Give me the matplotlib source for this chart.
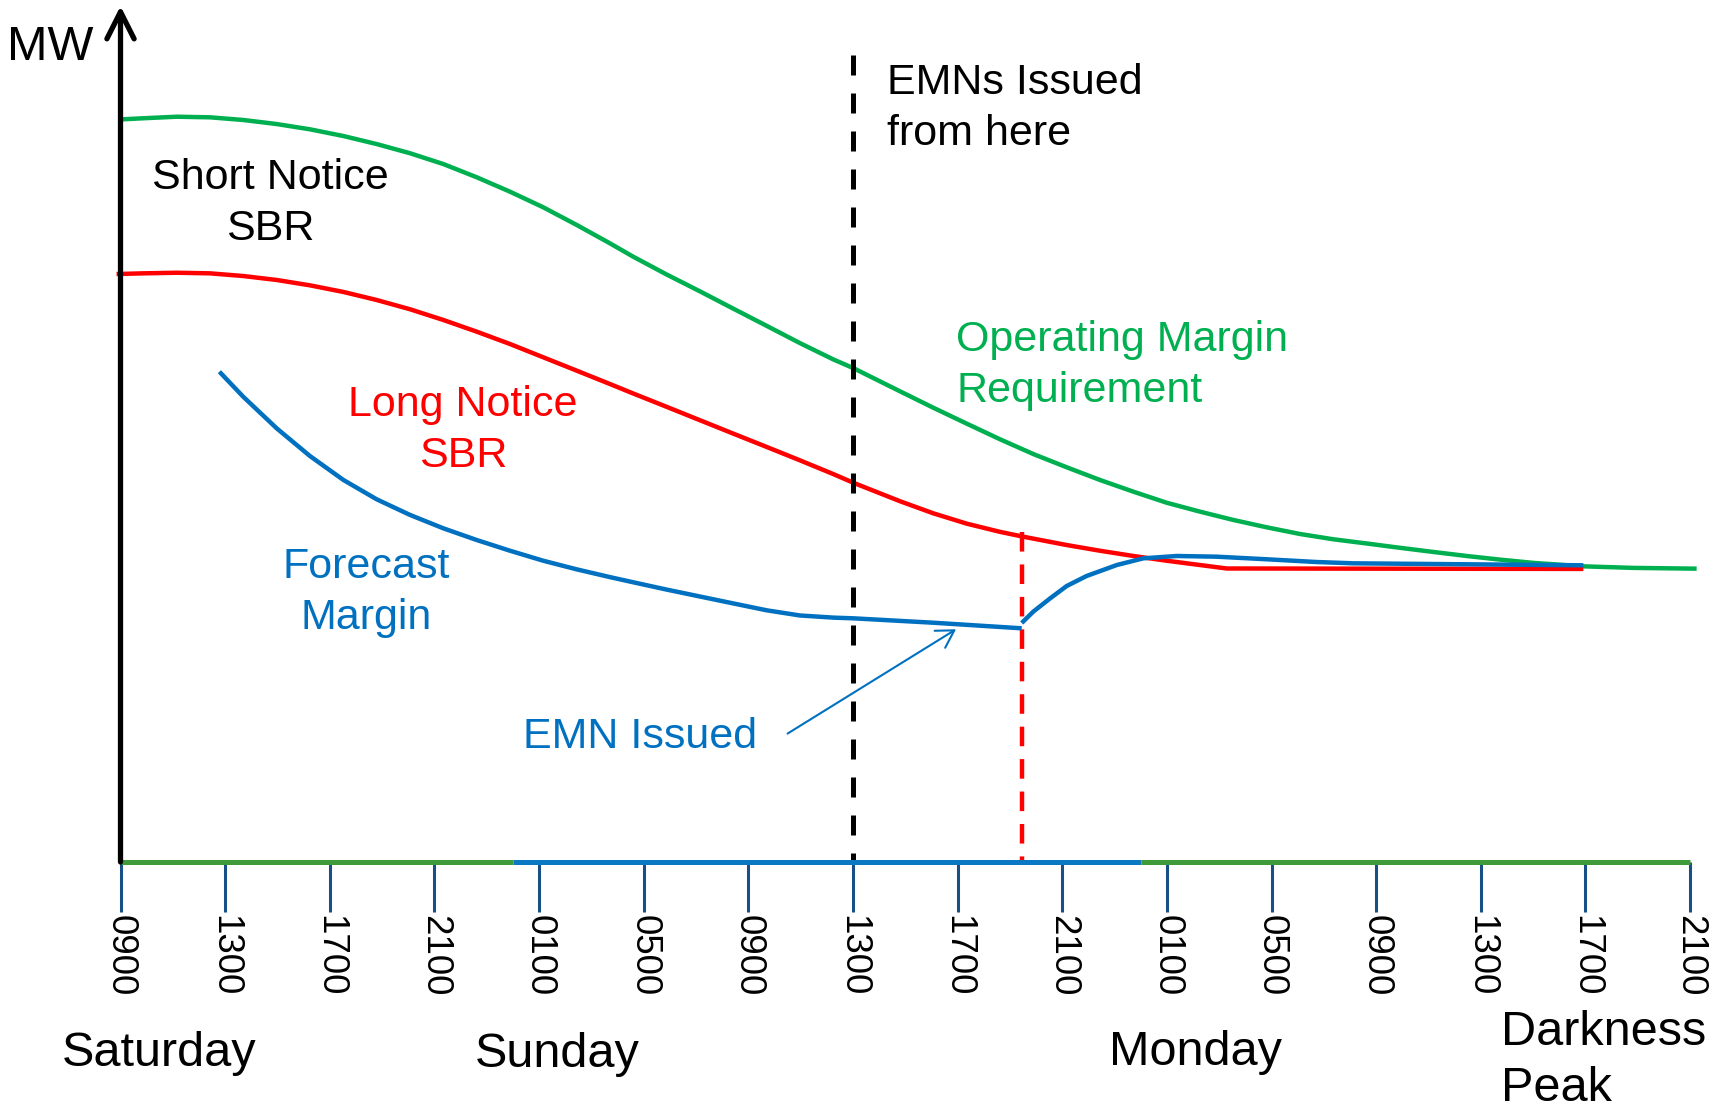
import matplotlib
matplotlib.use('Agg')
import matplotlib.pyplot as plt

plt.rcParams['font.family'] = ['Liberation Sans', 'DejaVu Sans']

# x = hours after Saturday 0900, y = MW (arbitrary, baseline = 0)
tick_hours = list(range(0, 61, 4))
tick_labels = ['0900', '1300', '1700', '2100', '0100', '0500', '0900', '1300',
               '1700', '2100', '0100', '0500', '0900', '1300', '1700', '2100']
day_edges = [0, 15, 39, 60]  # Saturday / Sunday / Monday

# Operating Margin Requirement
omr_hours = [0.08, 0.87, 2.15, 3.42, 4.69, 5.97, 7.24, 8.52, 9.79, 11.07,
             12.34, 13.62, 14.89, 16.16, 17.44, 18.71, 19.60, 20.88, 22.15, 23.42,
             24.70, 25.97, 27.25, 28.01, 29.80, 31.07, 32.35, 33.62, 34.89, 36.17,
             37.44, 38.72, 39.99, 41.27, 42.54, 43.81, 45.09, 46.36, 47.64, 48.78,
             50.18, 51.46, 52.73, 54.01, 55.92, 57.83, 60.25]
omr_mw = [86.16, 86.28, 86.46, 86.39, 86.08, 85.61, 85.00, 84.22, 83.29, 82.22,
          80.97, 79.43, 77.76, 75.95, 73.90, 71.77, 70.22, 68.15, 66.20, 64.20,
          62.20, 60.20, 58.30, 57.30, 54.60, 52.70, 50.85, 49.04, 47.33, 45.79,
          44.32, 42.96, 41.68, 40.64, 39.68, 38.83, 38.05, 37.44, 36.95, 36.50,
          35.97, 35.50, 35.08, 34.70, 34.30, 34.12, 34.03]

# Long Notice SBR
long_hours = [-0.15, 0.87, 2.15, 3.42, 4.69, 5.97, 7.24, 8.52, 9.79, 11.07,
              12.34, 13.62, 14.89, 16.16, 17.44, 18.71, 19.60, 20.88, 22.15, 23.42,
              24.70, 25.97, 27.25, 28.01, 29.80, 31.07, 32.35, 33.62, 34.49, 36.17,
              37.44, 38.72, 39.99, 41.27, 42.29, 55.92]
long_mw = [68.21, 68.29, 68.36, 68.29, 67.98, 67.52, 66.90, 66.13, 65.20, 64.12,
           62.88, 61.52, 60.09, 58.55, 57.00, 55.45, 54.35, 52.80, 51.25, 49.70,
           48.15, 46.60, 45.00, 44.00, 41.85, 40.45, 39.25, 38.30, 37.75, 36.77,
           36.11, 35.50, 34.95, 34.45, 34.05, 34.00]

# Forecast Margin before the EMN
fm_hours = [3.78, 4.69, 5.97, 7.24, 8.52, 9.79, 11.07, 12.34, 13.62, 14.89,
            16.16, 17.44, 18.71, 19.60, 20.88, 22.15, 23.42, 24.70, 25.97, 27.25,
            28.01, 31.07, 34.45]
fm_mw = [56.88, 53.98, 50.31, 47.10, 44.32, 42.08, 40.26, 38.71, 37.35, 36.11,
         34.95, 33.95, 33.05, 32.45, 31.60, 30.80, 30.00, 29.20, 28.60, 28.35,
         28.27, 27.76, 27.11]
# Forecast Margin after the EMN
fm2_hours = [34.45, 34.89, 35.53, 36.17, 36.93, 38.08, 39.10, 40.37, 41.90, 43.81,
             45.73, 47.13, 55.92]
fm2_mw = [27.73, 29.04, 30.57, 32.02, 33.18, 34.45, 35.23, 35.50, 35.42, 35.12,
          34.80, 34.65, 34.42]

emn_start_hour = 28.0
emn_issue_hour = 34.45

GREEN = '#00B050'
RED = '#FF0000'
BLUE = '#0070C0'

fig = plt.figure(figsize=(17.23, 11.06), dpi=100)
ax = fig.add_axes([0.06994, 0.22061, 0.91856, 0.77939])
ax.set_xlim(0, 60.5)
ax.set_ylim(0, 100)
for s in ax.spines.values():
    s.set_visible(False)
ax.set_yticks([])

# time axis: ticks and coloured baseline
ax.set_xticks(tick_hours)
ax.set_xticklabels(tick_labels)
ax.tick_params(axis='x', direction='out', length=36, width=2.2, color='#174f86',
               pad=2, labelsize=26.5, labelrotation=270)
base_cols = ['#3f9b3a', '#0b78c4', '#3f9b3a']
for i in range(3):
    ax.plot(day_edges[i:i + 2], [0, 0], color=base_cols[i], lw=3.6,
            solid_capstyle='butt', clip_on=False, zorder=3)

# y axis arrow
ax.annotate('', xy=(0, 99.3), xytext=(0, 0), annotation_clip=False,
            arrowprops=dict(arrowstyle='->,head_length=0.97,head_width=0.49',
                            lw=3.8, color='black', shrinkA=0, shrinkB=0,
                            mutation_scale=20, capstyle='round'), zorder=5)
ax.text(-4.35, 93.0, 'MW', fontsize=35, ha='left', va='baseline')

# curves
line_kw = dict(lw=3.2, solid_joinstyle='round', solid_capstyle='butt')
ax.plot(omr_hours, omr_mw, color=GREEN, clip_on=False, zorder=2, **line_kw)
ax.plot(long_hours, long_mw, color=RED, clip_on=False, zorder=2, **line_kw)
ax.plot(fm_hours, fm_mw, color=BLUE, zorder=3, **line_kw)
ax.plot(fm2_hours, fm2_mw, color=BLUE, zorder=3, **line_kw)

# dashed markers
ax.plot([emn_start_hour, emn_start_hour], [93.6, 0], color='black', lw=3.6,
        linestyle=(0, (4, 3.6)), zorder=2.5)
ax.plot([emn_issue_hour, emn_issue_hour], [38.3, 0], color=RED, lw=3.2,
        linestyle=(0, (4.4, 2.9)), zorder=2.5)

# annotation arrow
ax.annotate('', xy=(31.94, 27.0), xytext=(25.5, 14.9),
            arrowprops=dict(arrowstyle='->,head_length=0.61,head_width=0.36',
                            lw=1.5, color=BLUE, shrinkA=0, shrinkB=0,
                            mutation_scale=20))

# labels
lab_kw = dict(fontsize=31, va='center', linespacing=1.36)
ax.text(5.71, 76.4, 'Short Notice\nSBR', ha='center', multialignment='center',
        **lab_kw)
ax.text(29.30, 87.4, 'EMNs Issued\nfrom here', ha='left', **lab_kw)
ax.text(31.94, 57.6, 'Operating Margin\nRequirement', color=GREEN, ha='left',
        **lab_kw)
ax.text(13.10, 50.1, 'Long Notice\nSBR', color=RED, ha='center',
        multialignment='center', **lab_kw)
ax.text(9.38, 31.3, 'Forecast\nMargin', color=BLUE, ha='center',
        multialignment='center', **lab_kw)
ax.text(15.39, 13.2, 'EMN Issued', fontsize=31, color=BLUE, ha='left',
        va='baseline')

# day labels
ax.text(-2.25, -23.7, 'Saturday', fontsize=35, va='baseline', clip_on=False)
ax.text(13.55, -23.8, 'Sunday', fontsize=35, va='baseline', clip_on=False)
ax.text(37.80, -23.55, 'Monday', fontsize=35, va='baseline', clip_on=False)
ax.text(52.77, -27.7, 'Darkness\nPeak', fontsize=35, va='baseline',
        linespacing=1.3, clip_on=False)

fig.savefig('out.png', dpi=100)
